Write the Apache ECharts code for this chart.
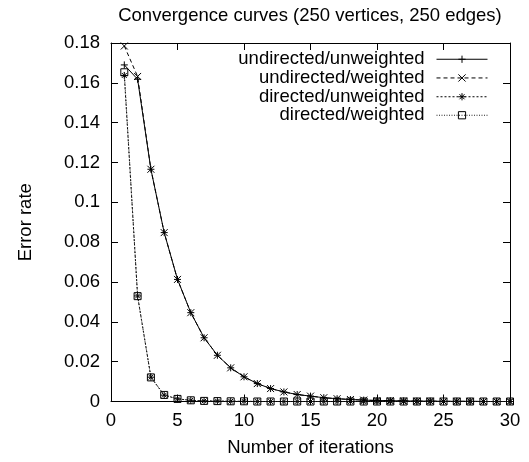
<!DOCTYPE html>
<html>
<head>
<meta charset="utf-8">
<script src="https://cdn.jsdelivr.net/npm/echarts@6/dist/echarts.min.js"></script>
<style>
html,body{margin:0;padding:0;background:#fff;}
#chart{width:529px;height:462px;}
</style>
</head>
<body>
<div id="chart"></div>
<script>
var iterations = [1,2,3,4,5,6,7,8,9,10,11,12,13,14,15,16,17,18,19,20,21,22,23,24,25,26,27,28,29,30];
var undirectedUnweighted = [0.169,0.1618,0.1166,0.0848,0.0613,0.0446,0.032,0.0232,0.0169,0.0124,0.009,0.0065,0.0048,0.0035,0.0027,0.0019,0.0014,0.001,0.0007,0.0005,0.0004,0.0003,0.0002,0.0002,0.0001,0.0001,0.0001,0,0,0];
var undirectedWeighted = [0.1785,0.1632,0.1166,0.0848,0.0613,0.0446,0.032,0.0232,0.0169,0.0124,0.009,0.0065,0.0048,0.0035,0.0027,0.0019,0.0014,0.001,0.0007,0.0005,0.0004,0.0003,0.0002,0.0002,0.0001,0.0001,0.0001,0,0,0];
var directedUnweighted = [0.1637,0.053,0.0122,0.0032,0.0013,0.0006,0.0003,0.0002,0.0001,0.0001,0,0,0,0,0,0,0,0,0,0,0,0,0,0,0,0,0,0,0,0];
var directedWeighted = [0.1653,0.0529,0.0121,0.0033,0.0013,0.0006,0.0003,0.0002,0.0001,0.0001,0,0,0,0,0,0,0,0,0,0,0,0,0,0,0,0,0,0,0,0];
var seriesNames = ['undirected/unweighted','undirected/weighted','directed/unweighted','directed/weighted'];
var titleText = 'Convergence curves (250 vertices, 250 edges)';
var xName = 'Number of iterations';
var yName = 'Error rate';

var FONT = 'Liberation Sans, Arial, Helvetica, sans-serif';
var FS = 18.5;

function pairs(vals){ return iterations.map(function(x,i){ return [x, vals[i]]; }); }

var symbols = [
  'path://M0,5L10,5M5,0L5,10',
  'path://M0,0L10,10M10,0L0,10',
  'path://M0,5L10,5M5,0L5,10M1.5,1.5L8.5,8.5M8.5,1.5L1.5,8.5',
  'path://M0,0L10,0L10,10L0,10Z'
];
var dashes = ['solid', [4,3], [2,2], [1,1.5]];
var lineColors = ['#000','#000','#000','#222'];
var allValues = [undirectedUnweighted, undirectedWeighted, directedUnweighted, directedWeighted];
var legendCenters = [59, 77.7, 96.5, 115];

var series = seriesNames.map(function(name, i){
  return {
    name: name,
    type: 'line',
    data: pairs(allValues[i]),
    symbol: symbols[i],
    symbolSize: 7,
    showSymbol: true,
    animation: false,
    lineStyle: {color: lineColors[i], width: 1, type: dashes[i]},
    itemStyle: {color: 'rgba(0,0,0,0)', borderColor: '#000', borderWidth: 1},
    emphasis: {disabled: true},
    z: 2 + i
  };
});

var legends = seriesNames.map(function(name, i){
  return {
    data: [name],
    right: 41,
    top: legendCenters[i] - FS/2,
    padding: 0,
    align: 'right',
    itemWidth: 51,
    itemHeight: 9,
    selectedMode: false,
    textStyle: {fontFamily: FONT, fontSize: FS, color: '#000', padding: [0, 7, 0, 0]},
    itemStyle: {borderWidth: 1},
    lineStyle: {width: 1}
  };
});

var axisCommonX = {
  type: 'value', min: 0, max: 30, interval: 5,
  axisLine: {show: true, onZero: false, lineStyle: {color: '#000', width: 1}},
  axisTick: {show: true, inside: true, length: 7, lineStyle: {color: '#000', width: 1}},
  splitLine: {show: false}
};
var axisCommonY = {
  type: 'value', min: 0, max: 0.18, interval: 0.02,
  axisLine: {show: true, onZero: false, lineStyle: {color: '#000', width: 1}},
  axisTick: {show: true, inside: true, length: 7, lineStyle: {color: '#000', width: 1}},
  splitLine: {show: false}
};

var option = {
  backgroundColor: '#fff',
  animation: false,
  title: {
    text: titleText, left: 310, top: 6, padding: 0, textAlign: 'center',
    textStyle: {fontFamily: FONT, fontSize: FS, fontWeight: 'normal', color: '#000'}
  },
  legend: legends,
  grid: {left: 111, right: 19, top: 43, bottom: 60, containLabel: false, show: false},
  xAxis: [
    Object.assign({}, axisCommonX, {
      position: 'bottom',
      name: xName, nameLocation: 'middle', nameGap: 36.5,
      nameTextStyle: {fontFamily: FONT, fontSize: FS, color: '#000'},
      axisLabel: {show: true, margin: 10, fontFamily: FONT, fontSize: FS, color: '#000'}
    }),
    Object.assign({}, axisCommonX, {position: 'top', axisLabel: {show: false}})
  ],
  yAxis: [
    Object.assign({}, axisCommonY, {
      position: 'left',
      name: yName, nameLocation: 'middle', nameGap: 76, nameRotate: 90,
      nameTextStyle: {fontFamily: FONT, fontSize: FS, color: '#000'},
      axisLabel: {show: true, margin: 11, fontFamily: FONT, fontSize: FS, color: '#000'}
    }),
    Object.assign({}, axisCommonY, {position: 'right', axisLabel: {show: false}})
  ],
  series: series
};

var chart = echarts.init(document.getElementById('chart'), null, {renderer: 'canvas'});
chart.setOption(option);
</script>
</body>
</html>
